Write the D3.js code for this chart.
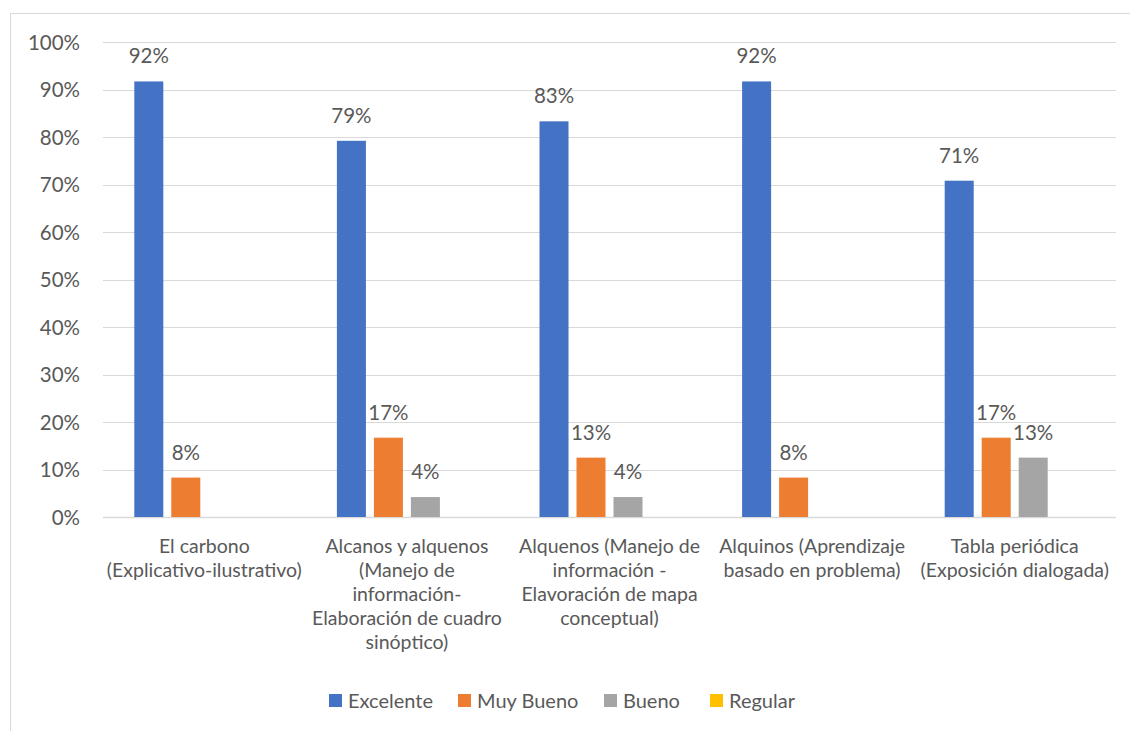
<!DOCTYPE html>
<html><head><meta charset="utf-8">
<script src="https://cdn.jsdelivr.net/npm/d3@7"></script>
<style>body{margin:0;background:#fff}svg{display:block}text{font-family:Lato,"Open Sans",sans-serif;fill:#595959}</style>
</head><body><svg id="c" width="1130" height="731"></svg>
<script>
const categories = [
  ["El carbono","(Explicativo-ilustrativo)"],
  ["Alcanos y alquenos","(Manejo de","información-","Elaboración de cuadro","sinóptico)"],
  ["Alquenos (Manejo de","información -","Elavoración de mapa","conceptual)"],
  ["Alquinos (Aprendizaje","basado en problema)"],
  ["Tabla periódica","(Exposición dialogada)"]
];
const seriesNames = ["Excelente","Muy Bueno","Bueno","Regular"];
const seriesColors = ["#4472C4","#ED7D31","#A5A5A5","#FFC000"];
const excelente = [0.917,0.792,0.833,0.917,0.708];
const muyBueno  = [0.083,0.167,0.125,0.083,0.167];
const bueno     = [null,0.042,0.042,null,0.125];
const regular   = [null,null,null,null,null];
const yTicks = [0,0.1,0.2,0.3,0.4,0.5,0.6,0.7,0.8,0.9,1.0];
const series = [excelente, muyBueno, bueno, regular];

const svg = d3.select("#c");
svg.append("rect").attr("x",10.5).attr("y",13.5).attr("width",1140).attr("height",740)
  .attr("fill","none").attr("stroke","#D9D9D9").attr("stroke-width",1);

const pL=103, pR=1116, pT=42, pB=517;
const idx = categories.map((d,i)=>i);
const x0 = d3.scaleBand().domain(idx).range([pL,pR]).padding(0);
const x1 = d3.scaleBand().domain(seriesNames).range([0,x0.bandwidth()]).paddingInner(0.216).paddingOuter(0.846);
const y = d3.scaleLinear().domain([0,1]).range([pB,pT]);

// gridlines
svg.append("g").selectAll("line").data(yTicks).join("line")
  .attr("x1",pL).attr("x2",pR).attr("y1",d=>Math.round(y(d))+0.5).attr("y2",d=>Math.round(y(d))+0.5)
  .attr("stroke","#D9D9D9").attr("stroke-width",d=>d===0?1.5:1);

// y axis labels
const yAxis = d3.axisLeft(y).tickValues(yTicks).tickFormat(d3.format(".0%")).tickSize(0).tickPadding(0);
const ga = svg.append("g").attr("transform","translate(80,0)").call(yAxis);
ga.select(".domain").remove();
ga.selectAll("text").attr("font-size","20.5px").attr("fill","#595959").attr("font-family","Lato, sans-serif").attr("dy","0.35em");

// bars
series.forEach((vals,si)=>{
  const g = svg.append("g");
  const data = vals.map((v,i)=>({v,i})).filter(d=>d.v!=null);
  g.selectAll("rect").data(data).join("rect")
    .attr("x",d=>x0(d.i)+x1(seriesNames[si]))
    .attr("width",x1.bandwidth())
    .attr("y",d=>y(d.v)).attr("height",d=>y(0)-y(d.v))
    .attr("fill",seriesColors[si]);
  g.selectAll("text").data(data).join("text")
    .attr("x",d=>x0(d.i)+x1(seriesNames[si])+x1.bandwidth()/2)
    .attr("y",d=>y(d.v)-18)
    .attr("text-anchor","middle").attr("font-size","20.5px")
    .text(d=>d3.format(".0%")(d.v));
});

// category labels
const cg = svg.append("g");
categories.forEach((lines,i)=>{
  const t = cg.append("text").attr("x",x0(i)+x0.bandwidth()/2).attr("y",553)
    .attr("text-anchor","middle").attr("font-size","19.5px");
  lines.forEach((l,j)=>t.append("tspan").attr("x",x0(i)+x0.bandwidth()/2).attr("y",553+j*24).text(l));
});

// legend
const legX = [329,458,604,710];
const lg = svg.append("g");
seriesNames.forEach((n,i)=>{
  lg.append("rect").attr("x",legX[i]).attr("y",694).attr("width",13).attr("height",13).attr("fill",seriesColors[i]);
  lg.append("text").attr("x",legX[i]+19).attr("y",708).attr("font-size","20px").text(n);
});
</script></body></html>
